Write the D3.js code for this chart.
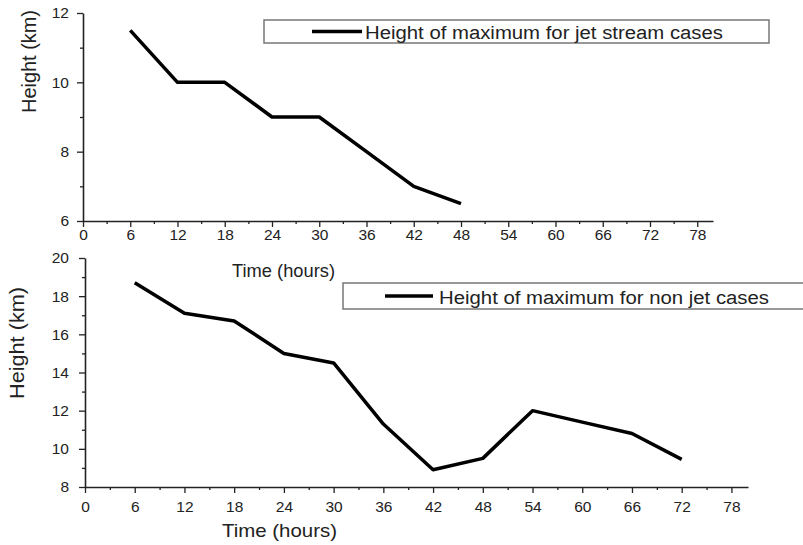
<!DOCTYPE html>
<html>
<head>
<meta charset="utf-8">
<script src="https://cdn.jsdelivr.net/npm/d3@7/dist/d3.min.js"></script>
<style>
  body { margin: 0; background: #fff; }
  svg text { font-family: "Liberation Sans", Arial, sans-serif; fill: #222; }
</style>
</head>
<body>
<svg id="chart" width="803" height="545"></svg>
<script>
// time steps (hours) and heights (km)
var jetHours = [6, 12, 18, 24, 30, 36, 42, 48];
var jetHeight = [11.5, 10, 10, 9, 9, 8, 7, 6.5];
var nonJetHours = [6, 12, 18, 24, 30, 36, 42, 48, 54, 60, 66, 72];
var nonJetHeight = [18.7, 17.1, 16.7, 15.0, 14.5, 11.3, 8.9, 9.5, 12.0, 11.4, 10.8, 9.45];
var xTicks = [0, 6, 12, 18, 24, 30, 36, 42, 48, 54, 60, 66, 72, 78];
var jetYTicks = [6, 8, 10, 12];
var nonJetYTicks = [8, 10, 12, 14, 16, 18, 20];
var jetLabel = "Height of maximum for jet stream cases";
var nonJetLabel = "Height of maximum for non jet cases";

var svg = d3.select("#chart");

var panels = [
  {
    hours: jetHours, heights: jetHeight, yTicks: jetYTicks, yDomain: [6, 12],
    x0: 83, x1: 713, y0: 221, y1: 13,
    xPad: 2, yPad: 8,
    xTitle: { x: 232, y: 277, len: 103 },
    yTitle: { x: 36, y: 61.5, len: 103 },
    legend: { x: 264, y: 20, w: 505, h: 23, lx0: 312, lx1: 362, tx: 365, ty: 38.5, len: 358, label: jetLabel }
  },
  {
    hours: nonJetHours, heights: nonJetHeight, yTicks: nonJetYTicks, yDomain: [8, 20],
    x0: 85, x1: 748, y0: 487, y1: 258,
    xPad: 8, yPad: 10,
    xTitle: { x: 222, y: 537, len: 115 },
    yTitle: { x: 24, y: 343, len: 112 },
    legend: { x: 343, y: 283, w: 470, h: 26, lx0: 385, lx1: 433, tx: 439, ty: 303.5, len: 330, label: nonJetLabel }
  }
];

panels.forEach(function(p) {
  var x = d3.scaleLinear().domain([0, 80]).range([p.x0, p.x1]);
  var y = d3.scaleLinear().domain(p.yDomain).range([p.y0, p.y1]);

  // minor ticks
  var xMinor = d3.range(3, 80, 6);
  svg.append("g")
    .attr("transform", "translate(0," + p.y0 + ")")
    .call(d3.axisBottom(x).tickValues(xMinor).tickSize(3).tickFormat(""))
    .call(function(g) { g.select(".domain").remove(); })
    .selectAll("line").attr("stroke", "#222").attr("stroke-width", 1.3);
  var yMinor = p.yTicks.slice(0, -1).map(function(v, i) { return (v + p.yTicks[i + 1]) / 2; });
  svg.append("g")
    .attr("transform", "translate(" + p.x0 + ",0)")
    .call(d3.axisLeft(y).tickValues(yMinor).tickSize(3).tickFormat(""))
    .call(function(g) { g.select(".domain").remove(); })
    .selectAll("line").attr("stroke", "#222").attr("stroke-width", 1.3);

  // major axes
  var gx = svg.append("g")
    .attr("transform", "translate(0," + p.y0 + ")")
    .call(d3.axisBottom(x).tickValues(xTicks).tickFormat(d3.format("d")).tickSize(6).tickSizeOuter(0).tickPadding(p.xPad));
  var gy = svg.append("g")
    .attr("transform", "translate(" + p.x0 + ",0)")
    .call(d3.axisLeft(y).tickValues(p.yTicks).tickFormat(d3.format("d")).tickSize(6).tickSizeOuter(0).tickPadding(p.yPad));
  [gx, gy].forEach(function(g) {
    g.select(".domain").attr("stroke", "#222").attr("stroke-width", 1.6);
    g.selectAll(".tick line").attr("stroke", "#222").attr("stroke-width", 1.3);
    g.selectAll(".tick text").attr("font-size", 15.5).attr("font-family", "Liberation Sans, Arial, sans-serif").attr("fill", "#222");
  });

  // data line
  var pts = p.hours.map(function(h, i) { return [h, p.heights[i]]; });
  svg.append("path")
    .datum(pts)
    .attr("fill", "none")
    .attr("stroke", "#000")
    .attr("stroke-width", 3.5)
    .attr("stroke-linejoin", "round")
    .attr("d", d3.line().x(function(d) { return x(d[0]); }).y(function(d) { return y(d[1]); }));

  // axis titles
  svg.append("text")
    .attr("x", p.xTitle.x).attr("y", p.xTitle.y)
    .attr("font-size", 19)
    .attr("textLength", p.xTitle.len).attr("lengthAdjust", "spacingAndGlyphs")
    .text("Time (hours)");
  svg.append("text")
    .attr("transform", "translate(" + p.yTitle.x + "," + p.yTitle.y + ") rotate(-90)")
    .attr("text-anchor", "middle")
    .attr("font-size", 20)
    .attr("textLength", p.yTitle.len).attr("lengthAdjust", "spacingAndGlyphs")
    .text("Height (km)");

  // legend
  var L = p.legend;
  svg.append("rect")
    .attr("x", L.x).attr("y", L.y).attr("width", L.w).attr("height", L.h)
    .attr("fill", "#fff").attr("stroke", "#777").attr("stroke-width", 1.5);
  svg.append("line")
    .attr("x1", L.lx0).attr("x2", L.lx1)
    .attr("y1", L.y + L.h / 2).attr("y2", L.y + L.h / 2)
    .attr("stroke", "#000").attr("stroke-width", 3.5);
  svg.append("text")
    .attr("x", L.tx).attr("y", L.ty)
    .attr("font-size", 18)
    .attr("textLength", L.len).attr("lengthAdjust", "spacingAndGlyphs")
    .text(L.label);
});
</script>
</body>
</html>
